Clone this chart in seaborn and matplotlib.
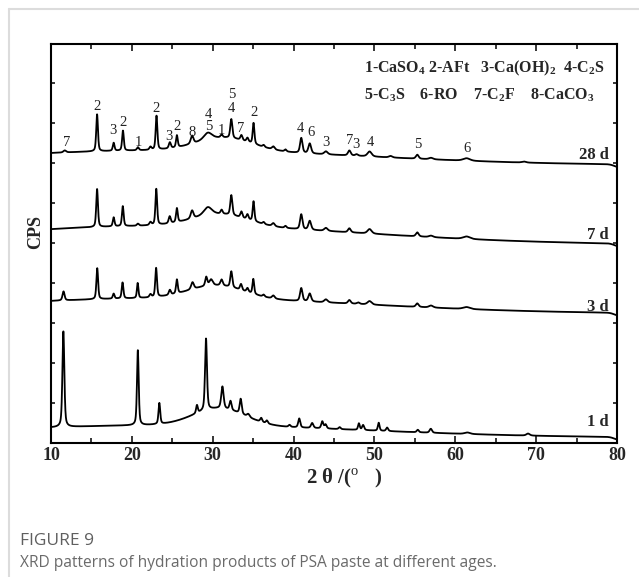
import numpy as np
import pandas as pd
import matplotlib
matplotlib.use('Agg')
import matplotlib.pyplot as plt
import seaborn as sns
from matplotlib.lines import Line2D
from matplotlib.ticker import MultipleLocator

# ---- data (2theta in degrees, intensity in arbitrary CPS) ----
ages = ['28 d', '7 d', '3 d', '1 d']
level = [277.8, 198.4, 129.3, 5.3]          # flat baseline of each pattern
drift = [15.0, 19.0, 15.7, 12.6]            # very broad background (slow fall to high angle)
hump_pos = [31.5, 31.0, 30.5, 30.8]         # amorphous C-S-H hump
hump_int = [13.0, 12.0, 13.0, 17.0]
hump_fwhm = [8.0, 8.0, 8.0, 7.5]

pos_28d = [11.7, 15.7, 17.75, 18.9, 20.75, 22.3, 23.05, 24.7, 25.57, 27.45, 29.4, 31.1,
           32.3, 33.55, 34.3, 35.05, 36.3, 37.5, 39.0, 40.95, 42.0, 44.0, 46.9, 47.8,
           49.4, 52.0, 55.3, 57.0, 61.4, 68.5]
int_28d = [2, 37, 8, 20, 3, 3, 34, 6, 12, 8, 7, 3,
           19, 5, 4, 21, 2, 3, 2, 15, 10, 3, 5, 1.5,
           5, 1.5, 4, 1.5, 2.5, 1]
fwhm_28d = [0.4, 0.25, 0.25, 0.25, 0.3, 0.3, 0.25, 0.3, 0.25, 0.4, 1.2, 0.3,
            0.3, 0.3, 0.3, 0.25, 0.3, 0.4, 0.3, 0.35, 0.4, 0.5, 0.4, 0.4,
            0.6, 0.5, 0.4, 0.6, 1.0, 0.6]

pos_7d = [15.7, 17.75, 18.88, 20.75, 22.3, 23.02, 24.68, 25.57, 27.45, 29.4, 31.1, 32.3,
          33.55, 34.3, 35.05, 36.3, 37.5, 39.0, 40.95, 42.0, 44.0, 46.9, 49.4, 55.3,
          57.0, 61.4]
int_7d = [38, 9, 20, 2, 3, 36, 7, 14, 8, 8, 4, 20,
          6, 5, 20, 2, 3, 2, 15, 9, 3, 4, 4.5, 4,
          1.5, 2.5]
fwhm_7d = [0.25, 0.25, 0.25, 0.3, 0.3, 0.25, 0.3, 0.25, 0.4, 1.2, 0.3, 0.3,
           0.3, 0.3, 0.25, 0.3, 0.4, 0.3, 0.35, 0.4, 0.5, 0.4, 0.6, 0.4,
           0.6, 1.0]

pos_3d = [11.55, 15.72, 17.75, 18.85, 20.72, 22.3, 23.0, 24.7, 25.57, 27.5, 29.2, 29.8,
          31.1, 32.3, 33.5, 34.3, 35.02, 36.3, 37.5, 40.95, 42.0, 44.0, 46.9, 48.0,
          49.4, 55.3, 57.0, 61.4]
int_3d = [9, 31, 5, 16, 15, 3, 29, 5, 14, 7, 9, 6,
          6, 16, 6, 4, 15, 2, 3, 13, 8, 3, 3.5, 1.5,
          3.5, 3.5, 2, 2]
fwhm_3d = [0.3, 0.25, 0.25, 0.25, 0.22, 0.3, 0.25, 0.3, 0.25, 0.4, 0.3, 0.5,
           0.35, 0.3, 0.3, 0.3, 0.25, 0.3, 0.4, 0.35, 0.4, 0.5, 0.4, 0.4,
           0.6, 0.4, 0.6, 1.0]

pos_1d = [11.53, 20.74, 23.4, 28.05, 29.17, 31.2, 32.2, 33.46, 34.4, 36.0, 36.7, 39.5,
          40.7, 42.3, 43.55, 43.96, 45.7, 48.08, 48.6, 50.53, 51.57, 55.36, 56.97, 61.5, 69.0]
int_1d = [96, 75, 21, 8, 72, 22, 9, 15, 3, 4, 3, 2,
          9, 5, 7, 4, 2, 6.5, 5, 8, 3.5, 2.5, 4, 1.5, 2]
fwhm_1d = [0.28, 0.25, 0.25, 0.25, 0.28, 0.35, 0.3, 0.3, 0.4, 0.3, 0.3, 0.3,
           0.3, 0.35, 0.3, 0.3, 0.3, 0.25, 0.3, 0.25, 0.3, 0.3, 0.35, 0.8, 0.5]

peak_pos = [pos_28d, pos_7d, pos_3d, pos_1d]
peak_int = [int_28d, int_7d, int_3d, int_1d]
peak_fwhm = [fwhm_28d, fwhm_7d, fwhm_3d, fwhm_1d]

# phase markers over the 28 d pattern
mark_text = ['7', '2', '3', '2', '1', '2', '3', '2', '8', '4', '5', '1', '5', '4', '7', '2',
             '4', '6', '3', '7', '3', '4', '5', '6']
mark_x = [11.9, 15.7, 17.65, 18.85, 20.8, 23.0, 24.55, 25.55, 27.45, 29.5, 29.5, 31.1,
          32.3, 32.3, 33.45, 35.05, 40.85, 42.15, 44.05, 46.95, 47.75, 49.45, 55.35, 61.4]
mark_y = [301, 336, 312, 321, 301, 335, 306, 316, 311, 329, 316, 312,
          348, 335, 315, 330, 315, 311, 301, 302, 298, 300, 298, 294]

age_y = [288, 208, 136, 21]

legend_row1 = r'1-CaSO$_{\mathbf{4}}$ 2-AFt   3-Ca(OH)$_{\mathbf{2}}$  4-C$_{\mathbf{2}}$S'
legend_row2 = r'5-C$_{\mathbf{3}}$S    6-RO    7-C$_{\mathbf{2}}$F    8-CaCO$_{\mathbf{3}}$'


def profile(x, p, h, w, eta=0.5):
    d = (x - p) / w
    return h * (eta / (1 + 4 * d ** 2) + (1 - eta) * np.exp(-4 * np.log(2) * d ** 2))


two_theta = np.arange(10, 80.0001, 0.02)
frames = []
for i, age in enumerate(ages):
    y = np.full_like(two_theta, level[i])
    y += profile(two_theta, 25.0, drift[i], 55.0, eta=0)
    y += profile(two_theta, hump_pos[i], hump_int[i], hump_fwhm[i], eta=0)
    y += profile(two_theta, 80.3, -3.0, 1.4, eta=0)   # detector edge drop
    for p, h, w in zip(peak_pos[i], peak_int[i], peak_fwhm[i]):
        y += profile(two_theta, p, h, w)
    frames.append(pd.DataFrame({'2theta': two_theta, 'CPS': y, 'age': age}))
df = pd.concat(frames, ignore_index=True)

# ---- plotting ----
sns.set_style('ticks')
plt.rcParams['font.family'] = ['Liberation Serif', 'DejaVu Serif']
plt.rcParams['mathtext.fontset'] = 'custom'
plt.rcParams['mathtext.rm'] = 'Liberation Serif'
plt.rcParams['mathtext.bf'] = 'Liberation Serif:bold'

W, H = 639, 577
fig = plt.figure(figsize=(W / 100, H / 100), dpi=100)
ax = fig.add_axes([51 / W, 1 - 443 / H, 566 / W, 399 / H])

for age in ages:
    sns.lineplot(data=df[df['age'] == age], x='2theta', y='CPS', ax=ax,
                 color='black', lw=1.3, legend=False, estimator=None, sort=False)

ax.set_xlim(10, 80)
ax.set_ylim(0, 399)
ax.set_xlabel('')
ax.set_ylabel('')
ax.xaxis.set_major_locator(MultipleLocator(10))
ax.xaxis.set_minor_locator(MultipleLocator(5))
ax.yaxis.set_major_locator(MultipleLocator(40))
ax.tick_params(which='both', direction='in', top=True, right=True, width=1.3)
ax.tick_params(which='major', length=5)
ax.tick_params(which='minor', length=3.5)
ax.tick_params(axis='y', labelleft=False, length=3)
ax.tick_params(axis='x', labelsize=13, pad=3)
for lab in ax.get_xticklabels():
    lab.set_fontweight('bold')
for s in ax.spines.values():
    s.set_linewidth(1.5)
    s.set_color('black')

for t, x, y in zip(mark_text, mark_x, mark_y):
    ax.text(x, y, t, ha='center', va='center', fontsize=10.5, color='#222222')

for age, y in zip(ages, age_y):
    ax.text(79.0, y, age, ha='right', va='center', fontsize=12, fontweight='bold')

ax.text(0.553, 0.94, legend_row1, transform=ax.transAxes, ha='left', va='center',
        fontsize=11.5, fontweight='bold')
ax.text(0.553, 0.872, legend_row2, transform=ax.transAxes, ha='left', va='center',
        fontsize=11.5, fontweight='bold')

fig.text(344 / W, 1 - 478 / H, r'2 θ /($^{\rm o}$   )', ha='center', va='center',
         fontsize=15, fontweight='bold')
fig.text(36 / W, 1 - 232 / H, 'CPS', ha='center', va='center', rotation=90,
         fontsize=13, fontweight='bold')

# caption card
fig.text(20 / W, 1 - 541 / H, 'FIGURE 9', ha='left', va='center', fontsize=12.5,
         color='#5f5f5f', family='Open Sans')
fig.text(20 / W, 1 - 563 / H, 'XRD patterns of hydration products of PSA paste at different ages.',
         ha='left', va='center', fontsize=11.2, color='#6a6a6a', family='Open Sans')
fig.add_artist(Line2D([8.5 / W, 1], [1 - 8.5 / H, 1 - 8.5 / H], color='#dcdcdc', lw=1.5))
fig.add_artist(Line2D([8.5 / W, 8.5 / W], [0, 1 - 8.5 / H], color='#dcdcdc', lw=1.5))

fig.savefig('out.png', dpi=100)
